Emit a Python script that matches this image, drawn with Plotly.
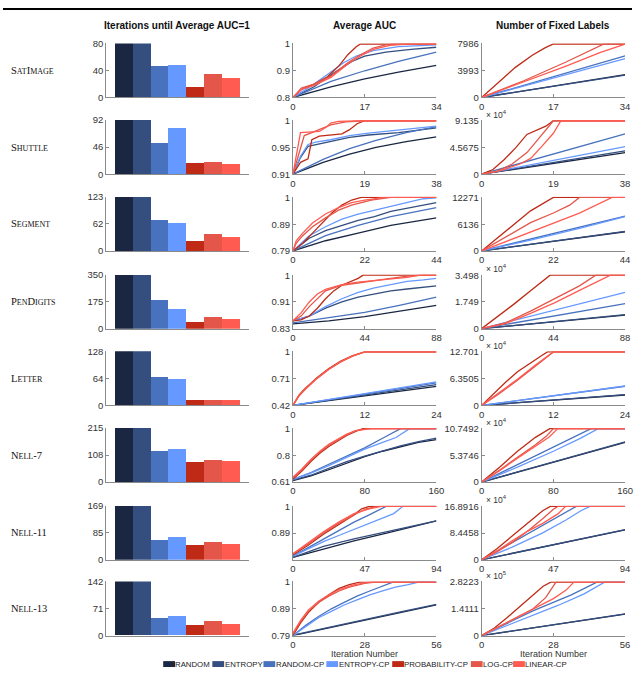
import plotly.graph_objects as go

W, H = 640, 673

METHODS = ["RANDOM", "ENTROPY", "RANDOM-CP", "ENTROPY-CP", "PROBABILITY-CP", "LOG-CP", "LINEAR-CP"]
COLORS = ["#1b2742", "#344e7f", "#4872be", "#6699ff", "#be2a15", "#e35649", "#ff5b50"]

DATASETS = ["SatImage", "Shuttle", "Segment", "PenDigits", "Letter", "Nell-7", "Nell-11", "Nell-13"]

# ---- bar values: iterations until average AUC = 1 ----
BARS_SATIMAGE = [80, 80, 46, 48, 15, 34, 28]
BARS_SHUTTLE = [92, 92, 53, 78, 19, 21, 18]
BARS_SEGMENT = [123, 123, 71, 64, 22, 40, 31]
BARS_PENDIGITS = [350, 350, 190, 130, 43, 81, 68]
BARS_LETTER = [128, 128, 66, 61, 12, 12, 12]
BARS_NELL7 = [215, 215, 123, 132, 79, 88, 83]
BARS_NELL11 = [169, 169, 63, 73, 46, 57, 49]
BARS_NELL13 = [142, 142, 44, 49, 27, 36, 30]
BARS = [BARS_SATIMAGE, BARS_SHUTTLE, BARS_SEGMENT, BARS_PENDIGITS, BARS_LETTER,
        BARS_NELL7, BARS_NELL11, BARS_NELL13]
BAR_TICKTEXT = [["0", "40", "80"], ["0", "46", "92"], ["0", "62", "123"], ["0", "175", "350"],
                ["0", "64", "128"], ["0", "108", "215"], ["0", "85", "169"], ["0", "71", "142"]]

# ---- axis extents ----
X_MAX = [34, 38, 44, 88, 24, 160, 94, 56]
AUC_MIN = [0.8, 0.91, 0.79, 0.83, 0.42, 0.61, 0.78, 0.79]
AUC_TICKTEXT = [["0.8", "0.9", "1"], ["0.91", "0.95", "1"], ["0.79", "0.89", "1"], ["0.83", "0.91", "1"],
                ["0.42", "0.71", "1"], ["0.61", "0.8", "1"], ["", "0.89", "1"], ["0.79", "0.89", "1"]]
FIXED_MAX = [7986, 91350, 12271, 34980, 127010, 107492, 168916, 282230]
FIXED_TICKTEXT = [["0", "3993", "7986"], ["0", "4.5675", "9.135"], ["0", "6136", "12271"],
                  ["0", "1.749", "3.498"], ["0", "6.3505", "12.701"], ["0", "5.3746", "10.7492"],
                  ["0", "8.4458", "16.8916"], ["0", "1.4111", "2.8223"]]
FIXED_EXP = ["", "4", "", "4", "4", "4", "4", "5"]

# ---- Average AUC curves (iteration, AUC) ----
SAT_AUC = {
    "RANDOM": ([0, 9, 17, 25, 34], [0.8, 0.84, 0.87, 0.895, 0.92]),
    "ENTROPY": ([0, 5, 10, 14, 17, 22, 28, 34], [0.8, 0.84, 0.895, 0.935, 0.955, 0.97, 0.98, 0.988]),
    "RANDOM-CP": ([0, 9, 17, 25, 34], [0.8, 0.86, 0.9, 0.935, 0.97]),
    "ENTROPY-CP": ([0, 5, 9, 12, 15, 19, 25, 34], [0.8, 0.85, 0.895, 0.93, 0.955, 0.975, 0.99, 0.997]),
    "PROBABILITY-CP": ([0, 2, 5, 8, 11, 13, 15, 16, 34], [0.8, 0.83, 0.85, 0.875, 0.92, 0.96, 0.99, 1, 1]),
    "LOG-CP": ([0, 2, 5, 9, 13, 16, 19, 22, 24, 34], [0.8, 0.835, 0.85, 0.88, 0.93, 0.96, 0.985, 0.997, 1, 1]),
    "LINEAR-CP": ([0, 2, 5, 9, 13, 16, 19, 23, 27, 34], [0.8, 0.83, 0.845, 0.875, 0.925, 0.955, 0.98, 0.995, 1, 1]),
}
SHU_AUC = {
    "RANDOM": ([0, 8, 15, 22, 30, 38], [0.91, 0.93, 0.944, 0.955, 0.965, 0.973]),
    "ENTROPY": ([0, 2, 4, 8, 15, 20, 28, 38], [0.91, 0.938, 0.957, 0.962, 0.972, 0.976, 0.98, 0.988]),
    "RANDOM-CP": ([0, 8, 15, 22, 30, 38], [0.91, 0.935, 0.953, 0.967, 0.98, 0.99]),
    "ENTROPY-CP": ([0, 2, 4, 6, 10, 15, 20, 25, 30, 38], [0.91, 0.94, 0.96, 0.964, 0.968, 0.975, 0.979, 0.982, 0.985, 0.991]),
    "PROBABILITY-CP": ([0, 2, 4, 5, 7, 10, 13, 15, 17, 19, 38], [0.91, 0.93, 0.936, 0.968, 0.974, 0.976, 0.978, 0.985, 0.995, 1, 1]),
    "LOG-CP": ([0, 3, 5, 7, 10, 14, 19, 38], [0.91, 0.975, 0.98, 0.985, 0.993, 0.998, 1, 1]),
    "LINEAR-CP": ([0, 2, 7, 9, 10, 12, 19, 38], [0.91, 0.98, 0.982, 0.99, 0.996, 0.999, 1, 1]),
}
SEG_AUC = {
    "RANDOM": ([0, 10, 20, 30, 44], [0.79, 0.83, 0.86, 0.89, 0.92]),
    "ENTROPY": ([0, 5, 10, 15, 20, 25, 30, 38, 44], [0.79, 0.84, 0.87, 0.89, 0.91, 0.925, 0.945, 0.965, 0.98]),
    "RANDOM-CP": ([0, 10, 20, 30, 44], [0.79, 0.85, 0.89, 0.925, 0.96]),
    "ENTROPY-CP": ([0, 5, 10, 15, 20, 25, 30, 35, 40, 44], [0.79, 0.85, 0.885, 0.915, 0.935, 0.95, 0.965, 0.98, 0.995, 0.999]),
    "PROBABILITY-CP": ([0, 3, 6, 9, 12, 15, 18, 21, 44], [0.79, 0.82, 0.86, 0.9, 0.94, 0.97, 0.99, 1, 1]),
    "LOG-CP": ([0, 1, 3, 6, 10, 14, 18, 24, 30, 44], [0.79, 0.82, 0.85, 0.885, 0.92, 0.95, 0.97, 0.99, 1, 1]),
    "LINEAR-CP": ([0, 1, 3, 6, 10, 14, 18, 22, 28, 44], [0.79, 0.83, 0.86, 0.9, 0.935, 0.96, 0.98, 0.99, 1, 1]),
}
PEN_AUC = {
    "RANDOM": ([0, 22, 44, 66, 88], [0.845, 0.855, 0.868, 0.885, 0.904]),
    "ENTROPY": ([0, 10, 20, 30, 40, 50, 60, 70, 88], [0.855, 0.87, 0.895, 0.915, 0.93, 0.94, 0.95, 0.956, 0.966]),
    "RANDOM-CP": ([0, 22, 44, 66, 88], [0.848, 0.865, 0.882, 0.905, 0.93]),
    "ENTROPY-CP": ([0, 10, 20, 30, 40, 50, 60, 70, 80, 88], [0.855, 0.87, 0.9, 0.925, 0.945, 0.96, 0.97, 0.98, 0.985, 0.99]),
    "PROBABILITY-CP": ([0, 5, 10, 15, 20, 25, 30, 35, 40, 43, 88], [0.855, 0.858, 0.87, 0.895, 0.925, 0.95, 0.968, 0.98, 0.99, 1, 1]),
    "LOG-CP": ([0, 5, 10, 15, 20, 30, 45, 60, 70, 80, 88], [0.855, 0.87, 0.9, 0.925, 0.95, 0.968, 0.98, 0.99, 0.997, 1, 1]),
    "LINEAR-CP": ([0, 5, 10, 15, 20, 30, 40, 55, 70, 78, 88], [0.855, 0.88, 0.915, 0.94, 0.955, 0.97, 0.978, 0.985, 0.993, 1, 1]),
}
LET_AUC = {
    "RANDOM": ([0, 6, 12, 18, 24], [0.42, 0.47, 0.52, 0.575, 0.625]),
    "ENTROPY": ([0, 6, 12, 18, 24], [0.42, 0.475, 0.53, 0.59, 0.645]),
    "RANDOM-CP": ([0, 6, 12, 18, 24], [0.42, 0.48, 0.54, 0.605, 0.665]),
    "ENTROPY-CP": ([0, 6, 12, 18, 24], [0.42, 0.482, 0.545, 0.61, 0.675]),
    "PROBABILITY-CP": ([0, 1, 2, 4, 6, 8, 10, 12, 24], [0.42, 0.53, 0.6, 0.72, 0.82, 0.9, 0.96, 1, 1]),
    "LOG-CP": ([0, 1, 2, 4, 6, 8, 10, 12, 24], [0.42, 0.52, 0.59, 0.71, 0.81, 0.89, 0.955, 1, 1]),
    "LINEAR-CP": ([0, 1, 2, 4, 6, 8, 10, 12, 24], [0.42, 0.525, 0.595, 0.715, 0.815, 0.895, 0.958, 1, 1]),
}
N7_AUC = {
    "RANDOM": ([0, 20, 40, 60, 80, 100, 120, 140, 160], [0.62, 0.655, 0.7, 0.75, 0.795, 0.835, 0.87, 0.9, 0.92]),
    "ENTROPY": ([0, 20, 40, 60, 80, 100, 120, 140, 160], [0.625, 0.66, 0.71, 0.76, 0.8, 0.84, 0.875, 0.905, 0.93]),
    "RANDOM-CP": ([0, 20, 40, 60, 80, 100, 120, 160], [0.63, 0.68, 0.74, 0.8, 0.86, 0.93, 1, 1]),
    "ENTROPY-CP": ([0, 20, 40, 60, 80, 100, 115, 130, 160], [0.63, 0.675, 0.73, 0.79, 0.85, 0.9, 0.935, 1, 1]),
    "PROBABILITY-CP": ([0, 10, 20, 30, 40, 50, 60, 70, 78, 160], [0.63, 0.69, 0.76, 0.82, 0.87, 0.91, 0.95, 0.98, 1, 1]),
    "LOG-CP": ([0, 10, 20, 30, 40, 50, 60, 70, 83, 160], [0.64, 0.7, 0.77, 0.83, 0.88, 0.92, 0.955, 0.985, 1, 1]),
    "LINEAR-CP": ([0, 10, 20, 30, 40, 50, 60, 70, 88, 160], [0.645, 0.705, 0.775, 0.835, 0.885, 0.925, 0.96, 0.985, 1, 1]),
}
N11_AUC = {
    "RANDOM": ([0, 20, 40, 60, 80, 94], [0.79, 0.825, 0.858, 0.888, 0.92, 0.94]),
    "ENTROPY": ([0, 20, 40, 60, 80, 94], [0.79, 0.835, 0.866, 0.894, 0.922, 0.94]),
    "RANDOM-CP": ([0, 10, 20, 30, 40, 50, 61, 94], [0.795, 0.83, 0.865, 0.9, 0.935, 0.965, 1, 1]),
    "ENTROPY-CP": ([0, 10, 20, 30, 40, 50, 60, 66, 72, 94], [0.795, 0.825, 0.855, 0.88, 0.905, 0.93, 0.955, 0.97, 1, 1]),
    "PROBABILITY-CP": ([0, 10, 20, 30, 40, 45, 50, 94], [0.8, 0.84, 0.885, 0.925, 0.965, 0.99, 1, 1]),
    "LOG-CP": ([0, 10, 20, 30, 40, 48, 55, 94], [0.805, 0.845, 0.89, 0.93, 0.965, 0.99, 1, 1]),
    "LINEAR-CP": ([0, 10, 20, 30, 40, 50, 58, 94], [0.805, 0.85, 0.895, 0.935, 0.97, 0.99, 1, 1]),
}
N13_AUC = {
    "RANDOM": ([0, 14, 28, 42, 56], [0.79, 0.82, 0.85, 0.88, 0.91]),
    "ENTROPY": ([0, 14, 28, 42, 56], [0.792, 0.823, 0.853, 0.883, 0.912]),
    "RANDOM-CP": ([0, 5, 10, 15, 20, 25, 30, 35, 39, 56], [0.79, 0.83, 0.865, 0.895, 0.92, 0.945, 0.965, 0.985, 1, 1]),
    "ENTROPY-CP": ([0, 5, 10, 15, 20, 25, 30, 35, 40, 45, 49, 56], [0.79, 0.825, 0.86, 0.885, 0.91, 0.93, 0.95, 0.965, 0.98, 0.99, 1, 1]),
    "PROBABILITY-CP": ([0, 3, 6, 10, 14, 18, 22, 26, 56], [0.79, 0.84, 0.88, 0.92, 0.95, 0.975, 0.99, 1, 1]),
    "LOG-CP": ([0, 3, 6, 10, 14, 18, 22, 28, 32, 56], [0.795, 0.845, 0.885, 0.92, 0.945, 0.965, 0.98, 0.995, 1, 1]),
    "LINEAR-CP": ([0, 3, 6, 10, 14, 18, 24, 30, 56], [0.8, 0.85, 0.89, 0.925, 0.95, 0.97, 0.99, 1, 1]),
}
AUC_CURVES = [SAT_AUC, SHU_AUC, SEG_AUC, PEN_AUC, LET_AUC, N7_AUC, N11_AUC, N13_AUC]

# ---- Number of fixed labels curves (iteration, labels) ----
SAT_FIXED = {
    "RANDOM": ([0, 34], [0, 3400]),
    "ENTROPY": ([0, 34], [0, 3350]),
    "RANDOM-CP": ([0, 34], [0, 6200]),
    "ENTROPY-CP": ([0, 34], [0, 5800]),
    "PROBABILITY-CP": ([0, 4, 8, 12, 15, 17, 34], [0, 2300, 4500, 6300, 7400, 7986, 7986]),
    "LOG-CP": ([0, 10, 20, 29, 34], [0, 2500, 5300, 7986, 7986]),
    "LINEAR-CP": ([0, 10, 20, 28, 34], [0, 2300, 4700, 6700, 7986]),
}
SHU_FIXED = {
    "RANDOM": ([0, 38], [0, 37000]),
    "ENTROPY": ([0, 38], [0, 40000]),
    "RANDOM-CP": ([0, 38], [0, 69000]),
    "ENTROPY-CP": ([0, 38], [0, 47000]),
    "PROBABILITY-CP": ([0, 3, 6, 9, 12, 15, 17, 19, 38], [0, 8000, 25000, 45000, 68000, 77000, 82000, 91350, 91350]),
    "LOG-CP": ([0, 4, 8, 12, 15, 18, 19, 38], [0, 5000, 17000, 37000, 60000, 83000, 91350, 91350]),
    "LINEAR-CP": ([0, 5, 10, 13, 16, 19, 21, 38], [0, 6000, 17000, 27000, 48000, 70000, 91350, 91350]),
}
SEG_FIXED = {
    "RANDOM": ([0, 44], [0, 4400]),
    "ENTROPY": ([0, 44], [0, 4500]),
    "RANDOM-CP": ([0, 44], [0, 8000]),
    "ENTROPY-CP": ([0, 15, 30, 44], [0, 2500, 5200, 7900]),
    "PROBABILITY-CP": ([0, 5, 10, 15, 22, 44], [0, 3000, 6200, 9200, 12271, 12271]),
    "LOG-CP": ([0, 5, 10, 15, 22, 27, 30, 44], [0, 2200, 4500, 6500, 8700, 10500, 12271, 12271]),
    "LINEAR-CP": ([0, 10, 20, 30, 40, 44], [0, 2900, 5800, 8700, 12271, 12271]),
}
PEN_FIXED = {
    "RANDOM": ([0, 88], [0, 8900]),
    "ENTROPY": ([0, 88], [0, 9100]),
    "RANDOM-CP": ([0, 88], [0, 16400]),
    "ENTROPY-CP": ([0, 88], [0, 23800]),
    "PROBABILITY-CP": ([0, 10, 20, 30, 42, 88], [0, 7800, 16200, 24800, 34980, 34980]),
    "LOG-CP": ([0, 15, 30, 45, 60, 70, 88], [0, 4000, 11500, 19500, 28000, 34980, 34980]),
    "LINEAR-CP": ([0, 15, 30, 45, 60, 79, 88], [0, 3500, 10000, 17000, 25000, 34980, 34980]),
}
LET_FIXED = {
    "RANDOM": ([0, 24], [0, 24600]),
    "ENTROPY": ([0, 24], [0, 25500]),
    "RANDOM-CP": ([0, 24], [0, 45400]),
    "ENTROPY-CP": ([0, 24], [0, 46000]),
    "PROBABILITY-CP": ([0, 2, 4, 6, 8, 10, 11, 24], [0, 28000, 55000, 80000, 100000, 118000, 127010, 127010]),
    "LOG-CP": ([0, 3, 6, 9, 12, 24], [0, 28000, 60000, 94000, 127010, 127010]),
    "LINEAR-CP": ([0, 3, 6, 9, 12, 24], [0, 30000, 62000, 96000, 127010, 127010]),
}
N7_FIXED = {
    "RANDOM": ([0, 160], [0, 80000]),
    "ENTROPY": ([0, 160], [0, 81000]),
    "RANDOM-CP": ([0, 122, 160], [0, 107492, 107492]),
    "ENTROPY-CP": ([0, 40, 80, 110, 130, 160], [0, 30000, 62000, 88000, 107492, 107492]),
    "PROBABILITY-CP": ([0, 20, 40, 60, 76, 160], [0, 30000, 62000, 90000, 107492, 107492]),
    "LOG-CP": ([0, 20, 40, 60, 72, 80, 160], [0, 24000, 50000, 75000, 92000, 107492, 107492]),
    "LINEAR-CP": ([0, 20, 40, 60, 75, 85, 160], [0, 23000, 48000, 73000, 90000, 107492, 107492]),
}
N11_FIXED = {
    "RANDOM": ([0, 94], [0, 94800]),
    "ENTROPY": ([0, 94], [0, 95500]),
    "RANDOM-CP": ([0, 62, 94], [0, 168916, 168916]),
    "ENTROPY-CP": ([0, 20, 40, 55, 65, 71, 94], [0, 40000, 85000, 125000, 155000, 168916, 168916]),
    "PROBABILITY-CP": ([0, 10, 20, 30, 40, 45, 94], [0, 35000, 75000, 115000, 155000, 168916, 168916]),
    "LOG-CP": ([0, 10, 20, 30, 40, 47, 50, 94], [0, 25000, 55000, 90000, 130000, 160000, 168916, 168916]),
    "LINEAR-CP": ([0, 10, 20, 30, 40, 50, 55, 94], [0, 28000, 60000, 90000, 115000, 145000, 168916, 168916]),
}
N13_FIXED = {
    "RANDOM": ([0, 56], [0, 113000]),
    "ENTROPY": ([0, 56], [0, 114000]),
    "RANDOM-CP": ([0, 20, 35, 45, 56], [0, 130000, 215000, 282230, 282230]),
    "ENTROPY-CP": ([0, 20, 30, 40, 48, 56], [0, 105000, 160000, 220000, 282230, 282230]),
    "PROBABILITY-CP": ([0, 5, 10, 15, 20, 24, 27, 56], [0, 40000, 95000, 155000, 215000, 260000, 282230, 282230]),
    "LOG-CP": ([0, 10, 20, 25, 29, 56], [0, 70000, 140000, 200000, 282230, 282230]),
    "LINEAR-CP": ([0, 10, 20, 28, 33, 36, 56], [0, 70000, 140000, 195000, 240000, 282230, 282230]),
}
FIXED_CURVES = [SAT_FIXED, SHU_FIXED, SEG_FIXED, PEN_FIXED, LET_FIXED, N7_FIXED, N11_FIXED, N13_FIXED]

# ---------------- layout geometry (pixels) ----------------
COL_PX = [(105, 250), (295, 441), (487, 633)]
ROW_TOP = [38, 116, 194, 273, 351, 429, 508, 585]
ROW_H = 55
FONT = "Liberation Sans"
TICK_FONT = dict(family=FONT, size=9.5, color="#333333")
AXIS_COLOR = "#8a8a8a"


def px_x(p):
    return p / W


def px_y(p):
    return 1 - p / H


def small_caps(word, small=8):
    out = ""
    for ch in word:
        if ch.islower():
            out += f"<span style='font-size:{small}px'>{ch.upper()}</span>"
        else:
            out += ch
    return out.replace("</span><span style='font-size:%spx'>" % small, "")


def note(x, y, text, size, color="#333333", family=FONT, xanchor="left"):
    return dict(xref="paper", yref="paper", x=x, y=y, text=text, showarrow=False,
                xanchor=xanchor, yanchor="middle", borderpad=0, borderwidth=0,
                font=dict(family=family, size=size, color=color))


fig = go.Figure()
layout = {}
annotations = []
shapes = []

for r in range(8):
    top = ROW_TOP[r]
    ydom = [px_y(top + ROW_H), px_y(top)]
    for c in range(3):
        k = r * 3 + c + 1
        xa = "x" if k == 1 else f"x{k}"
        ya = "y" if k == 1 else f"y{k}"
        xkey = "xaxis" if k == 1 else f"xaxis{k}"
        ykey = "yaxis" if k == 1 else f"yaxis{k}"
        common = dict(showline=True, linecolor=AXIS_COLOR, linewidth=1, showgrid=False,
                      zeroline=False, ticks="inside", ticklen=3, tickcolor=AXIS_COLOR,
                      tickfont=TICK_FONT, fixedrange=True)
        xdom = [px_x(COL_PX[c][0]), px_x(COL_PX[c][1])]
        if c == 0:
            vals = BARS[r]
            fig.add_trace(go.Bar(x=METHODS, y=vals, marker=dict(color=COLORS, line=dict(width=0)),
                                 width=1.0, xaxis=xa, yaxis=ya, showlegend=False))
            ymax = vals[0]
            layout[xkey] = dict(common, domain=xdom, anchor=ya, type="category",
                                range=[-1, 7], showticklabels=False, ticks="")
            layout[ykey] = dict(common, domain=ydom, anchor=xa, range=[0, ymax],
                                tickvals=[0, ymax / 2, ymax], ticktext=BAR_TICKTEXT[r])
        else:
            curves = AUC_CURVES[r] if c == 1 else FIXED_CURVES[r]
            for m, col in zip(METHODS, COLORS):
                xs, ys = curves[m]
                fig.add_trace(go.Scatter(x=xs, y=ys, mode="lines", line=dict(color=col, width=1.3),
                                         xaxis=xa, yaxis=ya, showlegend=False))
            xm = X_MAX[r]
            layout[xkey] = dict(common, domain=xdom, anchor=ya, range=[0, xm],
                                tickvals=[0, xm / 2, xm], ticktext=["0", f"{xm // 2}", f"{xm}"])
            if c == 1:
                lo = AUC_MIN[r]
                pad = (1 - lo) * 0.012
                layout[ykey] = dict(common, domain=ydom, anchor=xa, range=[lo, 1 + pad],
                                    tickvals=[lo, (lo + 1) / 2, 1], ticktext=AUC_TICKTEXT[r])
            else:
                fm = FIXED_MAX[r]
                layout[ykey] = dict(common, domain=ydom, anchor=xa, range=[0, fm * 1.012],
                                    tickvals=[0, fm / 2, fm], ticktext=FIXED_TICKTEXT[r])
                if FIXED_EXP[r]:
                    annotations.append(note(px_x(COL_PX[2][0] + 4), px_y(top - 6),
                                            f"× 10<sup>{FIXED_EXP[r]}</sup>", 8.5))
    annotations.append(note(px_x(8), px_y(top + ROW_H / 2), small_caps(DATASETS[r]), 10.5,
                            color="#111111", family="Liberation Serif"))

# column titles
for title, c in [("Iterations until Average AUC=1", 0), ("Average AUC", 1), ("Number of Fixed Labels", 2)]:
    cx = (COL_PX[c][0] + COL_PX[c][1]) / 2
    annotations.append(note(px_x(cx), px_y(20), f"<b>{title}</b>", 10, color="#111111", xanchor="center"))

# x-axis titles
for c in [1, 2]:
    cx = (COL_PX[c][0] + COL_PX[c][1]) / 2
    annotations.append(note(px_x(cx), px_y(658.5), "Iteration Number", 9, xanchor="center"))

# legend (manual)
LEG_X = [163, 213, 265, 329, 396, 476, 519]
LEG_Y = 669
for m, col, lx in zip(METHODS, COLORS, LEG_X):
    shapes.append(dict(type="rect", xref="paper", yref="paper", x0=px_x(lx), x1=px_x(lx + 12),
                       y0=px_y(LEG_Y + 3), y1=px_y(LEG_Y - 3), fillcolor=col, line=dict(width=0)))
    annotations.append(note(px_x(lx + 12.5), px_y(LEG_Y), m, 7.8, color="#222222"))

# header rule at top
shapes.append(dict(type="line", xref="paper", yref="paper", x0=0, x1=1, y0=px_y(3), y1=px_y(3),
                   line=dict(color="#000000", width=2)))

fig.update_layout(**layout)
fig.update_layout(width=W, height=H, margin=dict(l=0, r=0, t=0, b=0), paper_bgcolor="white",
                  plot_bgcolor="white", bargap=0, annotations=annotations, shapes=shapes,
                  font=dict(family=FONT), showlegend=False)

fig.write_html("out.html", config={"displayModeBar": False},
               post_script="document.body.style.margin='0';document.body.style.padding='0';"
                           "document.body.style.overflow='hidden';")
